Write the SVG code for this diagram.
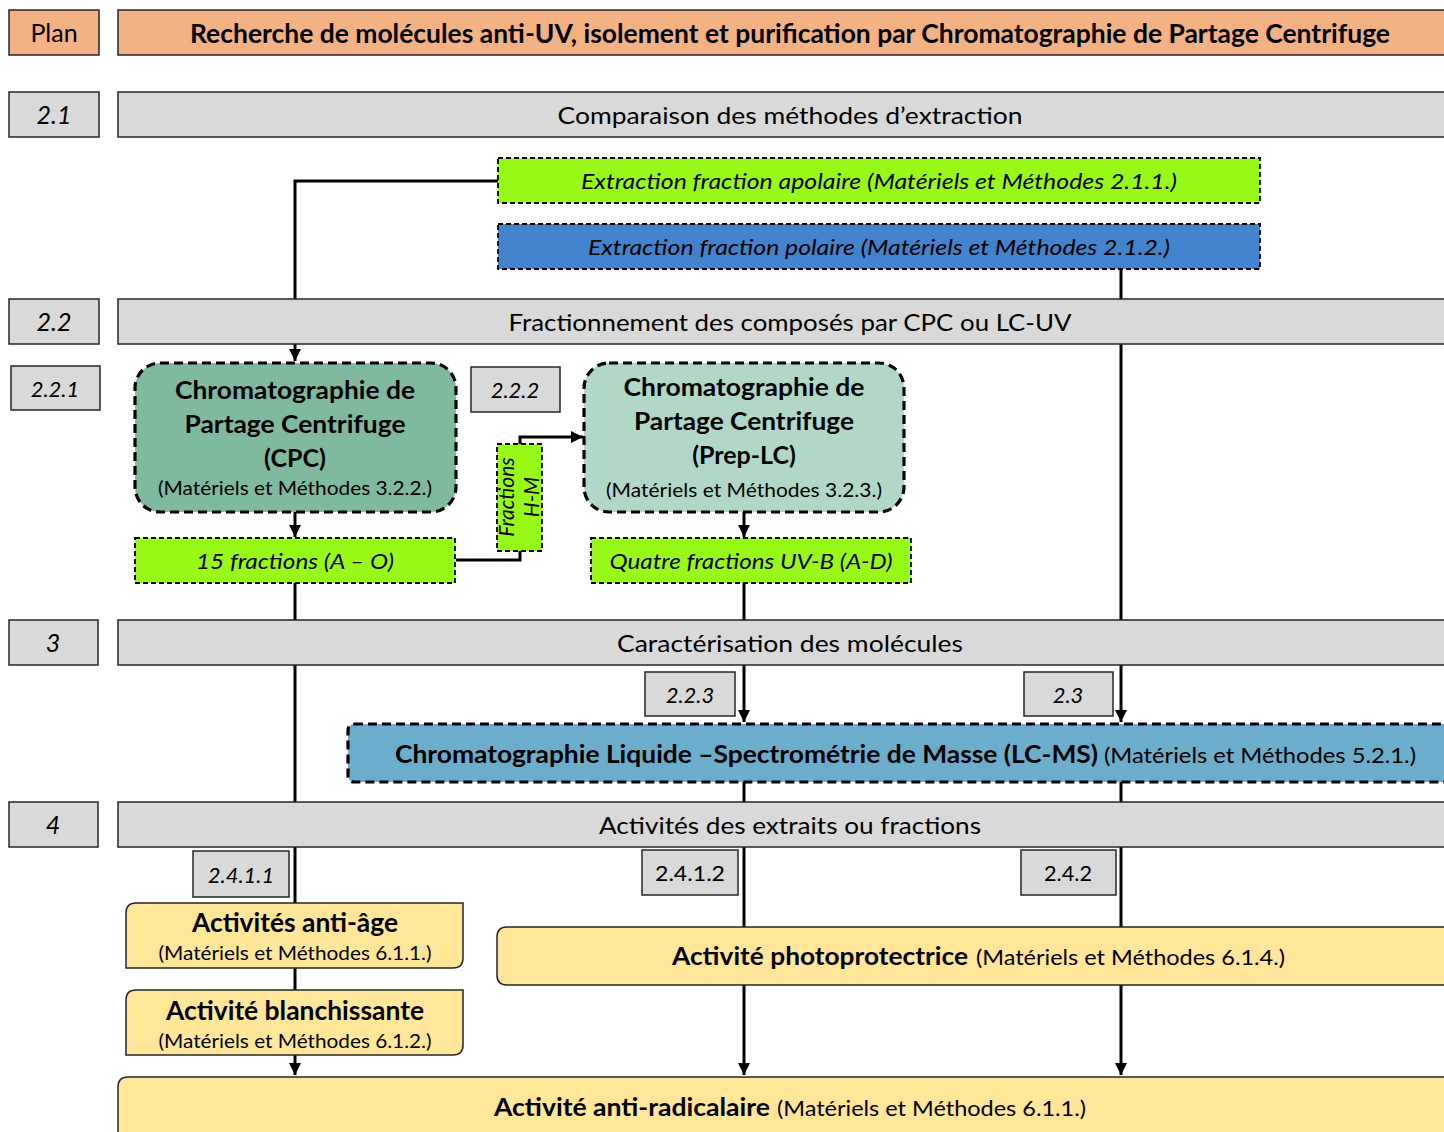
<svg xmlns="http://www.w3.org/2000/svg" width="1444" height="1132" viewBox="0 0 1444 1132">
<defs>
<style>
text{font-family:Lato,"Open Sans","Liberation Sans",sans-serif;fill:#000}
.bar{fill:#D9D9D9;stroke:#262626;stroke-width:1.5}
.org{fill:#F4B183;stroke:#262626;stroke-width:1.5}
.lbl{fill:#D9D9D9;stroke:#262626;stroke-width:1.5}
.bt{font-size:24px;text-anchor:middle}
.lt{font-size:25px;font-style:italic;text-anchor:middle}
.grn{fill:#98F919;stroke:#000;stroke-width:1.8;stroke-dasharray:5 3}
.blu{fill:#4383CD;stroke:#000;stroke-width:1.8;stroke-dasharray:5 3}
.it{font-size:21px;font-style:italic}
.big{fill:none;stroke:#000;stroke-width:3.2;stroke-dasharray:9 5}
.b{font-weight:bold}
.yel{fill:#FFE699;stroke:#262626;stroke-width:1.5}
.ln{fill:none;stroke:#000;stroke-width:3}
</style>
<marker id="ah" viewBox="0 0 10 10" refX="10" refY="5" markerWidth="4" markerHeight="4" orient="auto" markerUnits="strokeWidth">
<path d="M0,0 L10,5 L0,10 z" fill="#000"/>
</marker>
</defs>

<g id="connectors">
<path class="ln" d="M498,181 H295 V300"/>
<path class="ln" d="M295,342 V361" marker-end="url(#ah)"/>
<path class="ln" d="M1121,269 V300"/>
<path class="ln" d="M1121,342 V622"/>
<path class="ln" d="M295,512 V537" marker-end="url(#ah)"/>
<path class="ln" d="M456,560 H520 V551"/>
<path class="ln" d="M520,444 V437 H583" marker-end="url(#ah)"/>
<path class="ln" d="M744,512 V537" marker-end="url(#ah)"/>
<path class="ln" d="M295,583 V622"/>
<path class="ln" d="M744,583 V622"/>
<path class="ln" d="M295,663 V804"/>
<path class="ln" d="M744,663 V722" marker-end="url(#ah)"/>
<path class="ln" d="M1121,663 V722" marker-end="url(#ah)"/>
<path class="ln" d="M744,782 V804"/>
<path class="ln" d="M1121,782 V804"/>
<path class="ln" d="M295,845 V903"/>
<path class="ln" d="M295,967 V991"/>
<path class="ln" d="M295,1055 V1075" marker-end="url(#ah)"/>
<path class="ln" d="M744,845 V927"/>
<path class="ln" d="M1121,845 V927"/>
<path class="ln" d="M744,984 V1075" marker-end="url(#ah)"/>
<path class="ln" d="M1121,984 V1075" marker-end="url(#ah)"/>
</g>

<g id="plan">
<rect class="org" x="9" y="10" width="90" height="45"/>
<text x="54" y="42" font-size="25" text-anchor="middle">Plan</text>
</g>
<g id="title">
<rect class="org" x="118" y="10" width="1340" height="45"/>
<text class="b" x="190" y="43" font-size="26" textLength="1200" lengthAdjust="spacingAndGlyphs">Recherche de molécules anti-UV, isolement et purification par Chromatographie de Partage Centrifuge</text>
</g>

<g id="s21">
<rect class="lbl" x="9" y="92" width="90" height="45"/>
<text class="lt" x="54" y="124">2.1</text>
<rect class="bar" x="118" y="92" width="1340" height="45"/>
<text class="bt" x="790" y="124" textLength="465" lengthAdjust="spacingAndGlyphs">Comparaison des méthodes d’extraction</text>
</g>

<g id="apolaire">
<rect class="grn" x="498" y="158" width="762" height="45"/>
<text class="it" x="581" y="189" textLength="596" lengthAdjust="spacingAndGlyphs">Extraction fraction apolaire (Matériels et Méthodes 2.1.1.)</text>
</g>
<g id="polaire">
<rect class="blu" x="498" y="224" width="762" height="45"/>
<text class="it" x="588" y="255" textLength="582" lengthAdjust="spacingAndGlyphs">Extraction fraction polaire (Matériels et Méthodes 2.1.2.)</text>
</g>

<g id="s22">
<rect class="lbl" x="9" y="299" width="90" height="45"/>
<text class="lt" x="54" y="331">2.2</text>
<rect class="bar" x="118" y="299" width="1340" height="45"/>
<text class="bt" x="790" y="331" textLength="563" lengthAdjust="spacingAndGlyphs">Fractionnement des composés par CPC ou LC-UV</text>
</g>

<g id="l221">
<rect class="lbl" x="11" y="366" width="89" height="44"/>
<text x="55" y="397" font-size="22" font-style="italic" text-anchor="middle">2.2.1</text>
</g>
<g id="cpc">
<rect x="135" y="363" width="321" height="149" rx="25" fill="#7FBA9E"/>
<rect class="big" x="135" y="363" width="321" height="149" rx="25"/>
<text class="b" x="295" y="399" font-size="25" text-anchor="middle" textLength="240" lengthAdjust="spacingAndGlyphs">Chromatographie de</text>
<text class="b" x="295" y="433" font-size="25" text-anchor="middle" textLength="221" lengthAdjust="spacingAndGlyphs">Partage Centrifuge</text>
<text class="b" x="295" y="467" font-size="25" text-anchor="middle">(CPC)</text>
<text x="295" y="495" font-size="19" text-anchor="middle" textLength="274" lengthAdjust="spacingAndGlyphs">(Matériels et Méthodes 3.2.2.)</text>
</g>

<g id="l222">
<rect class="lbl" x="471" y="367" width="89" height="45"/>
<text x="515" y="398" font-size="22" font-style="italic" text-anchor="middle">2.2.2</text>
</g>
<g id="preplc">
<rect x="584" y="363" width="320" height="149" rx="25" fill="#B1D8C7"/>
<rect class="big" x="584" y="363" width="320" height="149" rx="25"/>
<text class="b" x="744" y="396" font-size="25" text-anchor="middle" textLength="241" lengthAdjust="spacingAndGlyphs">Chromatographie de</text>
<text class="b" x="744" y="430" font-size="25" text-anchor="middle" textLength="220" lengthAdjust="spacingAndGlyphs">Partage Centrifuge</text>
<text class="b" x="744" y="464" font-size="25" text-anchor="middle">(Prep-LC)</text>
<text x="744" y="497" font-size="19" text-anchor="middle" textLength="276" lengthAdjust="spacingAndGlyphs">(Matériels et Méthodes 3.2.3.)</text>
</g>

<g id="hm">
<rect class="grn" x="497" y="444" width="45" height="107"/>
<text class="it" font-size="20" transform="translate(514,497) rotate(-90)" text-anchor="middle">Fractions</text>
<text class="it" font-size="20" transform="translate(539,497) rotate(-90)" text-anchor="middle">H-M</text>
</g>

<g id="f15">
<rect class="grn" x="135" y="538" width="320" height="45"/>
<text class="it" x="295" y="569" text-anchor="middle" textLength="198" lengthAdjust="spacingAndGlyphs">15 fractions (A – O)</text>
</g>
<g id="quatre">
<rect class="grn" x="591" y="538" width="320" height="45"/>
<text class="it" x="751" y="569" text-anchor="middle" textLength="283" lengthAdjust="spacingAndGlyphs">Quatre fractions UV-B (A-D)</text>
</g>

<g id="s3">
<rect class="lbl" x="9" y="620" width="89" height="45"/>
<text class="lt" x="53" y="652">3</text>
<rect class="bar" x="118" y="620" width="1340" height="45"/>
<text class="bt" x="790" y="652" textLength="346" lengthAdjust="spacingAndGlyphs">Caractérisation des molécules</text>
</g>

<g id="l223">
<rect class="lbl" x="645" y="672" width="90" height="44"/>
<text x="690" y="703" font-size="22" font-style="italic" text-anchor="middle">2.2.3</text>
</g>
<g id="l23">
<rect class="lbl" x="1024" y="672" width="89" height="44"/>
<text x="1068" y="703" font-size="22" font-style="italic" text-anchor="middle">2.3</text>
</g>

<g id="lcms">
<rect x="348" y="724" width="1110" height="58" rx="6" fill="#6BADCA"/>
<rect class="big" x="348" y="724" width="1110" height="58" rx="6"/>
<text class="b" x="395" y="763" font-size="25" textLength="703" lengthAdjust="spacingAndGlyphs">Chromatographie Liquide –Spectrométrie de Masse (LC-MS)</text>
<text x="1104" y="763" font-size="21" textLength="312" lengthAdjust="spacingAndGlyphs">(Matériels et Méthodes 5.2.1.)</text>
</g>

<g id="s4">
<rect class="lbl" x="9" y="802" width="89" height="45"/>
<text class="lt" x="53" y="834">4</text>
<rect class="bar" x="118" y="802" width="1340" height="45"/>
<text class="bt" x="790" y="834" textLength="382" lengthAdjust="spacingAndGlyphs">Activités des extraits ou fractions</text>
</g>

<g id="l2411">
<rect class="lbl" x="193" y="851" width="96" height="46"/>
<text x="241" y="883" font-size="22" font-style="italic" text-anchor="middle">2.4.1.1</text>
</g>
<g id="l2412">
<rect class="lbl" x="642" y="850" width="96" height="45"/>
<text x="690" y="881" font-size="22" text-anchor="middle" textLength="70" lengthAdjust="spacingAndGlyphs">2.4.1.2</text>
</g>
<g id="l242">
<rect class="lbl" x="1021" y="850" width="95" height="45"/>
<text x="1068" y="881" font-size="22" text-anchor="middle" textLength="48" lengthAdjust="spacingAndGlyphs">2.4.2</text>
</g>

<g id="antiage">
<path class="yel" d="M136,903 H463 V958 Q463,968 453,968 H126 V913 Q126,903 136,903 Z"/>
<text class="b" x="295" y="932" font-size="26" text-anchor="middle" textLength="206" lengthAdjust="spacingAndGlyphs">Activités anti-âge</text>
<text x="295" y="960" font-size="19" text-anchor="middle" textLength="273" lengthAdjust="spacingAndGlyphs">(Matériels et Méthodes 6.1.1.)</text>
</g>
<g id="blanch">
<path class="yel" d="M136,990 H463 V1045 Q463,1055 453,1055 H126 V1000 Q126,990 136,990 Z"/>
<text class="b" x="295" y="1020" font-size="26" text-anchor="middle" textLength="258" lengthAdjust="spacingAndGlyphs">Activité blanchissante</text>
<text x="295" y="1048" font-size="19" text-anchor="middle" textLength="273" lengthAdjust="spacingAndGlyphs">(Matériels et Méthodes 6.1.2.)</text>
</g>

<g id="photo">
<path class="yel" d="M507,927 H1458 V985 H507 Q497,985 497,975 V937 Q497,927 507,927 Z"/>
<text class="b" x="672" y="965" font-size="25" textLength="296" lengthAdjust="spacingAndGlyphs">Activité photoprotectrice</text>
<text x="976" y="965" font-size="21" textLength="309" lengthAdjust="spacingAndGlyphs">(Matériels et Méthodes 6.1.4.)</text>
</g>

<g id="radical">
<path class="yel" d="M128,1077 H1458 V1140 H118 V1087 Q118,1077 128,1077 Z"/>
<text class="b" x="494" y="1116" font-size="25" textLength="276" lengthAdjust="spacingAndGlyphs">Activité anti-radicalaire</text>
<text x="777" y="1116" font-size="21" textLength="309" lengthAdjust="spacingAndGlyphs">(Matériels et Méthodes 6.1.1.)</text>
</g>
</svg>
